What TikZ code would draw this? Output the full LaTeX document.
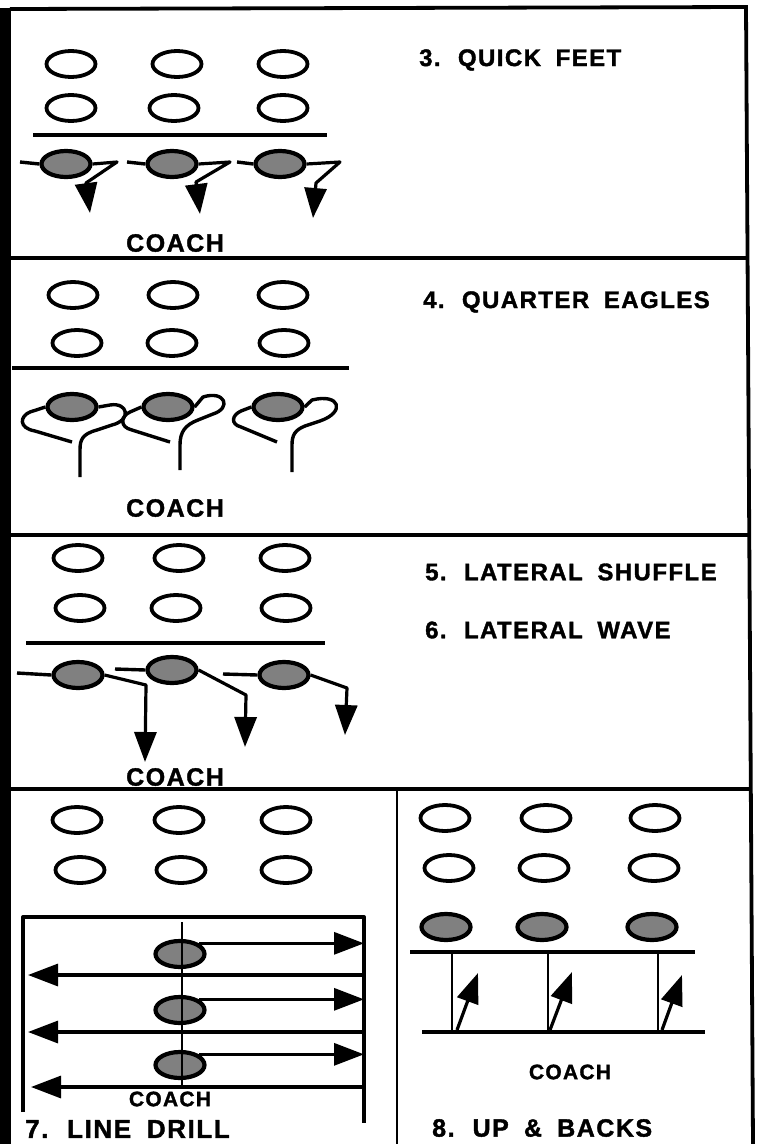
\documentclass[tikz,border=0pt]{standalone}
\usepackage{fontspec}
\setmainfont{Liberation Sans}[LetterSpace=6,WordSpace=1.8,BoldFeatures={FakeBold=1.5}]
\usepackage{tikz}
\usetikzlibrary{shapes.geometric,arrows.meta,positioning}
\tikzstyle{spot} = [ellipse, draw, line width=3.8pt, minimum width=49pt,
    minimum height=26pt, inner sep=0pt]
\tikzstyle{player} = [spot, fill=black!50, line width=4.2pt]
\tikzstyle{field} = [draw, line width=3.8pt]
\tikzstyle{trail} = [draw, line width=3.4pt, line join=round]
\tikzstyle{line} = [draw, line width=3.2pt, line join=round,
    -{Triangle[length=30pt,width=22pt]}]
\tikzstyle{title} = [anchor=west, inner sep=0pt,
    font=\fontsize{24}{28}\selectfont\bfseries]
\tikzstyle{coach} = [inner sep=0pt, font=\fontsize{25}{28}\selectfont\bfseries]

\begin{document}
\begin{tikzpicture}[x=1pt, y=-1pt]
        \useasboundingbox (0,0) rectangle (757,1144);
        % Frame
        \fill (0,8) rectangle (11,1144);
        \draw[field] (10,9) -- (746,7) -- (753,1144);
        \draw[field] (10,258) -- (747,258);
        \draw[field] (10,535) -- (750,535);
        \draw[field] (10,789) -- (752,789);
        \draw[line width=2.8pt] (397,789) -- (397,1144);

        % Quick feet
        \node [spot] (qa1) at (71,64) {};
        \node [spot] (qa2) at (177,64) {};
        \node [spot] (qa3) at (283,64) {};
        \node [spot] (qb1) at (71,108) {};
        \node [spot] (qb2) at (174,108) {};
        \node [spot] (qb3) at (283,108) {};
        \draw[field] (33,135) -- (327,135);
        \node [player] (qp1) at (66,164) {};
        \node [player] (qp2) at (172,164) {};
        \node [player] (qp3) at (280,164) {};
        \node [title] (quick) at (419,60) {3. QUICK FEET};
        \node [coach] (coach3) at (175,243) {COACH};
        \coordinate (qs1) at (20,162);
        \coordinate (qs2) at (127,162);
        \coordinate (qs3) at (237,162);
        \coordinate (qt1) at (90,213);
        \coordinate (qt2) at (200,214);
        \coordinate (qt3) at (313,218);
        \path [trail] (qs1) -- (qp1.west);
        \path [trail] (qs2) -- (qp2.west);
        \path [trail] (qs3) -- (qp3.west);
        \path [line] (qp1.east) -- (117,162) -- (86,183) -- (qt1);
        \path [line] (qp2.east) -- (230,162) -- (196,182) -- (qt2);
        \path [line] (qp3.east) -- (340,162) -- (316,183) -- (qt3);

        % Quarter eagles
        \node [spot] (ea1) at (73,295) {};
        \node [spot] (ea2) at (173,295) {};
        \node [spot] (ea3) at (283,295) {};
        \node [spot] (eb1) at (77,343) {};
        \node [spot] (eb2) at (172,343) {};
        \node [spot] (eb3) at (284,343) {};
        \draw[field] (12,368) -- (349,368);
        \node [player] (ep1) at (72,407) {};
        \node [player] (ep2) at (168,407) {};
        \node [player] (ep3) at (278,407) {};
        \node [title] (eagles) at (423,302) {4. QUARTER EAGLES};
        \node [coach] (coach4) at (175,508) {COACH};
        \coordinate (ef1) at (72,442);
        \coordinate (ef2) at (170,442);
        \coordinate (ef3) at (277,442);
        \coordinate (et1) at (80,477);
        \coordinate (et2) at (180,470);
        \coordinate (et3) at (292,472);
        \path [trail] (ep1.west) -- (30,412) .. controls (20,416) and (18,428) .. (35,431) -- (ef1);
        \path [trail] (ep2.west) -- (130,412) .. controls (121,416) and (119,427) .. (132,430) -- (ef2);
        \path [trail] (ep3.west) -- (241,411) .. controls (232,415) and (230,424) .. (241,427) -- (ef3);
        \path [trail] (ep1.east) -- (110,405) .. controls (128,402) and (132,420) .. (112,425)
            -- (97,430) .. controls (82,434) and (80,440) .. (80,450) -- (et1);
        \path [trail] (ep2.east) -- (203,397) .. controls (225,390) and (232,408) .. (213,414)
            -- (198,420) .. controls (185,425) and (180,432) .. (180,445) -- (et2);
        \path [trail] (ep3.east) -- (312,400) .. controls (340,393) and (346,412) .. (320,421)
            -- (305,426) .. controls (295,430) and (292,435) .. (292,445) -- (et3);

        % Lateral shuffle / wave
        \node [spot] (la1) at (78,558) {};
        \node [spot] (la2) at (179,558) {};
        \node [spot] (la3) at (285,558) {};
        \node [spot] (lb1) at (80,608) {};
        \node [spot] (lb2) at (176,608) {};
        \node [spot] (lb3) at (286,608) {};
        \draw[field] (26,643) -- (325,643);
        \node [player] (lp1) at (78,675) {};
        \node [player] (lp2) at (172,670) {};
        \node [player] (lp3) at (284,675) {};
        \node [title] (shuffle) at (425,572) {5. LATERAL SHUFFLE};
        \node [title] (wave) at (425,630) {6. LATERAL WAVE};
        \node [coach] (coach5) at (175,777) {COACH};
        \coordinate (ls1) at (17,673);
        \coordinate (ls2) at (115,669);
        \coordinate (ls3) at (223,674);
        \coordinate (lt1) at (145,762);
        \coordinate (lt2) at (245,747);
        \coordinate (lt3) at (345,735);
        \path [trail] (ls1) -- (lp1.west);
        \path [trail] (ls2) -- (lp2.west);
        \path [trail] (ls3) -- (lp3.west);
        \path [line] (lp1.east) -- (146,685) -- (lt1);
        \path [line] (lp2.east) -- (246,695) -- (lt2);
        \path [line] (lp3.east) -- (347,688) -- (lt3);

        % Line drill
        \node [spot] (da1) at (77,820) {};
        \node [spot] (da2) at (179,820) {};
        \node [spot] (da3) at (286,820) {};
        \node [spot] (db1) at (80,870) {};
        \node [spot] (db2) at (181,870) {};
        \node [spot] (db3) at (286,870) {};
        \coordinate (boxl) at (23,1112);
        \coordinate (boxtl) at (23,917);
        \coordinate (boxtr) at (364,917);
        \coordinate (boxr) at (364,1123);
        \path [trail] (boxl) -- (boxtl) -- (boxtr) -- (boxr);
        \node [player] (dp1) at (180,954) {};
        \node [player] (dp2) at (180,1010) {};
        \node [player] (dp3) at (180,1065) {};
        \coordinate (mid1) at (182,922);
        \coordinate (mid2) at (182,1085);
        \draw[line width=2.8pt] (mid1) -- (mid2);
        \path [line] (dp1.north east) -- (dp1.north east -| boxr);
        \path [line] (dp2.north east) -- (dp2.north east -| boxr);
        \path [line] (dp3.north east) -- (dp3.north east -| boxr);
        \coordinate (dr1) at (364,975);
        \coordinate (dr2) at (364,1032);
        \coordinate (dr3) at (364,1087);
        \coordinate (dl1) at (28,975);
        \coordinate (dl2) at (28,1032);
        \coordinate (dl3) at (31,1087);
        \path [line] (dr1) -- (dl1);
        \path [line] (dr2) -- (dl2);
        \path [line] (dr3) -- (dl3);
        \node [coach, font=\fontsize{21}{24}\selectfont\bfseries] (coach7) at (170,1099) {COACH};
        \node [title, font=\fontsize{26}{28}\selectfont\bfseries] (drill) at (25,1129) {7. LINE DRILL};

        % Up and backs
        \node [spot] (ua1) at (445,818) {};
        \node [spot] (ua2) at (546,818) {};
        \node [spot] (ua3) at (655,818) {};
        \node [spot] (ub1) at (449,868) {};
        \node [spot] (ub2) at (544,868) {};
        \node [spot] (ub3) at (654,868) {};
        \node [player] (up1) at (446,927) {};
        \node [player] (up2) at (542,927) {};
        \node [player] (up3) at (652,927) {};
        \draw[field] (410,952) -- (695,952);
        \draw[field] (422,1032) -- (705,1032);
        \draw[line width=2.8pt] (452,952) -- (452,1032);
        \draw[line width=2.8pt] (548,952) -- (548,1032);
        \draw[line width=2.8pt] (658,952) -- (658,1032);
        \coordinate (uf1) at (457,1030);
        \coordinate (uf2) at (550,1030);
        \coordinate (uf3) at (662,1030);
        \coordinate (ut1) at (478,973);
        \coordinate (ut2) at (572,972);
        \coordinate (ut3) at (682,975);
        \path [line] (uf1) -- (ut1);
        \path [line] (uf2) -- (ut2);
        \path [line] (uf3) -- (ut3);
        \node [coach, font=\fontsize{21}{24}\selectfont\bfseries] (coach8) at (570,1072) {COACH};
        \node [title, font=\fontsize{25}{28}\selectfont\bfseries] (backs) at (432,1128) {8. UP \& BACKS};
    \end{tikzpicture}
\end{document}
